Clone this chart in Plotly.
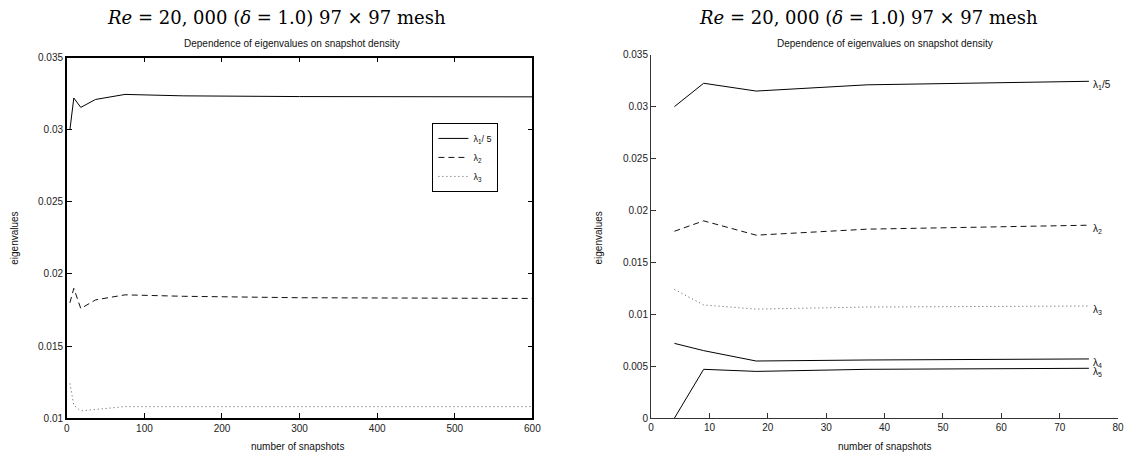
import plotly.graph_objects as go

# ---------------- data ----------------
snap_left = [4, 9, 18, 37, 75, 150, 300, 600]
lam1_left = [0.0300, 0.0322, 0.03155, 0.0321, 0.03245, 0.03235, 0.0323, 0.03228]
lam2_left = [0.0180, 0.0190, 0.0176, 0.0182, 0.01855, 0.01845, 0.01835, 0.0183]
lam3_left = [0.0124, 0.0109, 0.0105, 0.0106, 0.0108, 0.0108, 0.0108, 0.0108]

snap_right = [4, 9, 18, 37, 75]
lam1_right = [0.0300, 0.03225, 0.0315, 0.0321, 0.03244]
lam2_right = [0.0180, 0.0190, 0.01762, 0.0182, 0.01858]
lam3_right = [0.0124, 0.0109, 0.0105, 0.0107, 0.0108]
lam4_right = [0.0072, 0.0065, 0.0055, 0.0056, 0.0057]
lam5_right = [0.0000, 0.0047, 0.0045, 0.0047, 0.0048]

left_xticks = [0, 100, 200, 300, 400, 500, 600]
left_yticks = [0.01, 0.015, 0.02, 0.025, 0.03, 0.035]
left_ytext = ["0.01", "0.015", "0.02", "0.025", "0.03", "0.035"]
right_xticks = [0, 10, 20, 30, 40, 50, 60, 70, 80]
right_yticks = [0, 0.005, 0.01, 0.015, 0.02, 0.025, 0.03, 0.035]
right_ytext = ["0", "0.005", "0.01", "0.015", "0.02", "0.025", "0.03", "0.035"]

main_title = "<i>Re</i> = 20, 000 (<i>δ</i> = 1.0) 97 × 97 mesh"
sub_title = "Dependence of eigenvalues on snapshot density"
x_label = "number of snapshots"
y_label = "eigenvalues"
legend_names = ["λ<sub>1</sub>/ 5", "λ<sub>2</sub>", "λ<sub>3</sub>"]
right_labels = ["λ<sub>1</sub>/5", "λ<sub>2</sub>", "λ<sub>3</sub>", "λ<sub>4</sub>", "λ<sub>5</sub>"]

# ---------------- figure ----------------
W, H = 1137, 467
def px_x(p):
    return p / W
def px_y(p):
    return (H - p) / H

fig = go.Figure()

SOLID = dict(color="black", width=1)
DASH = dict(color="#111", width=1, dash="6px,4px")
DOT = dict(color="#555", width=1, dash="1px,3px")

fig.add_trace(go.Scatter(x=snap_left, y=lam1_left, mode="lines", line=SOLID,
                         name=legend_names[0], xaxis="x", yaxis="y"))
fig.add_trace(go.Scatter(x=snap_left, y=lam2_left, mode="lines", line=DASH,
                         name=legend_names[1], xaxis="x", yaxis="y"))
fig.add_trace(go.Scatter(x=snap_left, y=lam3_left, mode="lines", line=DOT,
                         name=legend_names[2], xaxis="x", yaxis="y"))

right_series = [lam1_right, lam2_right, lam3_right, lam4_right, lam5_right]
right_styles = [SOLID, DASH, DOT, SOLID, SOLID]
for ys, st in zip(right_series, right_styles):
    fig.add_trace(go.Scatter(x=snap_right, y=ys, mode="lines", line=st,
                             showlegend=False, xaxis="x2", yaxis="y2"))

SANS = "Liberation Sans, Arial, sans-serif"
tickfont = dict(family=SANS, size=10, color="#222")

fig.update_layout(
    width=W, height=H,
    margin=dict(l=0, r=0, t=0, b=0),
    paper_bgcolor="white", plot_bgcolor="white",
    showlegend=True,
    legend=dict(x=px_x(434), y=px_y(120), xanchor="left", yanchor="top",
                bordercolor="black", borderwidth=1, bgcolor="white",
                font=dict(family=SANS, size=9, color="#111"),
                tracegroupgap=0, itemwidth=30),
    xaxis=dict(domain=[px_x(64.5), px_x(535)], range=[0, 600],
               tickvals=left_xticks, ticks="inside", ticklen=5, tickcolor="black",
               showline=True, linecolor="black", linewidth=1.5, mirror="ticks",
               showgrid=False, zeroline=False, tickfont=tickfont, anchor="y"),
    yaxis=dict(domain=[px_y(423), px_y(53)], range=[0.01, 0.035],
               tickvals=left_yticks, ticktext=left_ytext, ticks="inside", ticklen=5,
               tickcolor="black", showline=True, linecolor="black", linewidth=1.5,
               mirror="ticks", showgrid=False, zeroline=False, tickfont=tickfont,
               anchor="x"),
    xaxis2=dict(domain=[px_x(655), px_x(1127)], range=[0, 80],
                tickvals=right_xticks, ticks="inside", ticklen=5, tickcolor="#333",
                showline=True, linecolor="#333", linewidth=1.2, mirror=False,
                showgrid=False, zeroline=False, tickfont=tickfont, anchor="y2"),
    yaxis2=dict(domain=[px_y(423), px_y(50)], range=[0, 0.035],
                tickvals=right_yticks, ticktext=right_ytext, ticks="inside", ticklen=5,
                tickcolor="#333", showline=True, linecolor="#333", linewidth=1.2,
                mirror=False, showgrid=False, zeroline=False, tickfont=tickfont,
                anchor="x2"),
)

ann = []
title_font = dict(family="DejaVu Serif, Liberation Serif, serif", size=18, color="black")
sub_font = dict(family=SANS, size=10, color="#111")
lab_font = dict(family=SANS, size=10, color="#111")
for tc, sc, xc, yl in [(276, 292, 298, 12), (875, 891, 891, 602)]:
    ann.append(dict(text=main_title, x=px_x(tc), y=px_y(12), xref="paper", yref="paper",
                    xanchor="center", yanchor="middle", showarrow=False, font=title_font))
    ann.append(dict(text=sub_title, x=px_x(sc), y=px_y(39), xref="paper", yref="paper",
                    xanchor="center", yanchor="middle", showarrow=False, font=sub_font))
    ann.append(dict(text=x_label, x=px_x(xc), y=px_y(452), xref="paper", yref="paper",
                    xanchor="center", yanchor="middle", showarrow=False, font=lab_font))
    ann.append(dict(text=y_label, x=px_x(yl), y=px_y(238), xref="paper", yref="paper",
                    xanchor="center", yanchor="middle", showarrow=False, font=lab_font,
                    textangle=-90))

for ys, lab in zip(right_series, right_labels):
    ann.append(dict(text=lab, x=snap_right[-1], y=ys[-1], xref="x2", yref="y2",
                    xanchor="left", yanchor="middle", xshift=2, yshift=-4,
                    showarrow=False, font=dict(family=SANS, size=10, color="#111")))

fig.update_layout(annotations=ann)
fig.write_html("out.html")
